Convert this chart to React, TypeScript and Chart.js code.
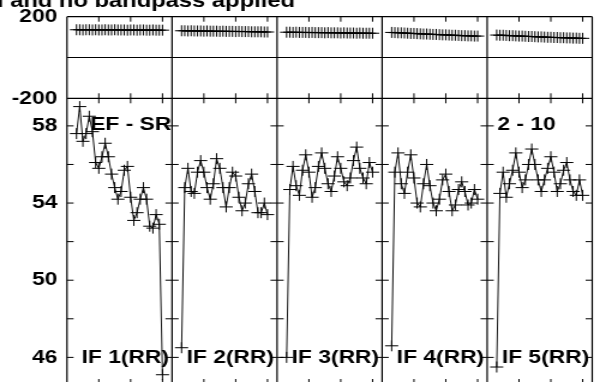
import React, { useEffect, useRef } from 'react';
import { Chart, registerables } from 'chart.js';

Chart.register(...registerables);

// ---- data ----
const PANEL_SPAN = 33;
const SAMPLE_U = [3, 4, 5, 6, 7, 8, 9, 10, 11, 12, 13, 14, 15, 16, 17, 18, 19, 20, 21, 22, 23, 24, 25, 26, 27, 28, 29, 30];
const X_TICKS = [10, 20, 30];

const PANEL_LABELS = ['IF 1(RR)', 'IF 2(RR)', 'IF 3(RR)', 'IF 4(RR)', 'IF 5(RR)'];
const TITLE = 'Trend removal and no bandpass applied';
const LABEL_LEFT = 'EF - SR';
const LABEL_RIGHT = '2 - 10';

const TOP_TICKS = [-200, 0, 200];
const BOTTOM_TICKS = [46, 48, 50, 52, 54, 56, 58];
const BOTTOM_LABELED = [46, 50, 54, 58];

const TOP_IF1 = [136, 136, 135, 136, 136, 135, 136, 135, 135, 136, 135, 135, 136, 135, 135, 135, 134, 135, 135, 134, 135, 135, 134, 134, 135, 134, 134, 134];
const TOP_IF2 = [131, 131, 130, 131, 130, 130, 130, 129, 130, 129, 129, 129, 128, 129, 128, 128, 128, 127, 128, 127, 127, 127, 126, 126, 126, 126, 125, 125];
const TOP_IF3 = [124, 124, 123, 124, 123, 123, 123, 122, 123, 122, 122, 122, 121, 122, 121, 121, 121, 120, 121, 120, 120, 120, 119, 120, 119, 119, 119, 119];
const TOP_IF4 = [123, 122, 121, 121, 120, 119, 118, 118, 117, 116, 115, 115, 114, 113, 113, 112, 111, 111, 110, 109, 109, 108, 107, 107, 106, 106, 105, 105];
const TOP_IF5 = [110, 109, 109, 108, 107, 107, 106, 105, 105, 104, 103, 103, 102, 101, 101, 100, 99, 99, 98, 98, 97, 97, 96, 96, 95, 95, 94, 94];

const RR_IF1 = [57.6, 59.0, 57.2, 57.6, 58.5, 57.7, 56.1, 55.8, 56.4, 57.1, 56.4, 55.5, 54.8, 54.2, 54.6, 55.7, 55.9, 54.3, 53.1, 53.5, 54.2, 54.8, 54.2, 52.8, 52.7, 53.4, 52.9, 45.1];
const RR_IF2 = [46.5, 54.8, 55.8, 54.6, 54.5, 55.6, 56.2, 55.6, 54.8, 54.2, 55.0, 56.3, 55.8, 54.8, 53.8, 54.8, 55.6, 55.4, 54.3, 53.6, 54.0, 55.0, 55.5, 54.6, 53.5, 53.5, 54.0, 53.4];
const RR_IF3 = [46.0, 54.7, 55.9, 54.9, 54.4, 55.7, 56.5, 55.6, 54.3, 54.8, 55.9, 56.6, 55.8, 55.0, 54.6, 55.4, 56.4, 55.8, 55.1, 54.9, 55.3, 56.2, 56.9, 55.8, 55.3, 55.0, 56.1, 55.6];
const RR_IF4 = [46.6, 55.6, 56.6, 55.0, 54.5, 55.6, 56.5, 55.3, 54.0, 53.8, 55.0, 56.0, 54.9, 54.0, 53.6, 54.2, 55.2, 55.5, 54.6, 53.6, 53.9, 54.7, 55.1, 54.6, 53.9, 54.0, 54.7, 54.2];
const RR_IF5 = [45.5, 54.5, 55.6, 54.3, 55.0, 55.7, 56.6, 55.6, 54.8, 55.2, 56.0, 56.8, 56.0, 55.2, 54.6, 55.2, 55.8, 56.4, 55.6, 54.6, 55.0, 55.7, 56.1, 55.2, 54.6, 54.4, 55.2, 54.4];

const TOP_SERIES = [TOP_IF1, TOP_IF2, TOP_IF3, TOP_IF4, TOP_IF5];
const RR_SERIES = [RR_IF1, RR_IF2, RR_IF3, RR_IF4, RR_IF5];

// ---- style ----
const FONT_FAMILY = '"Liberation Sans", Arial, sans-serif';
const FONT_SIZE = 19;
const FONT = `bold ${FONT_SIZE}px ${FONT_FAMILY}`;
const TITLE_FONT = `bold 19.8px ${FONT_FAMILY}`;
const STRETCH = 1.2;
const CANVAS_W = 500;
const CANVAS_H = 400;
const AXIS_W = 55.8;

const framePlugin = {
  id: 'gnuplotFrame',
  afterDraw(chart: any) {
    const { ctx } = chart;
    const xs = chart.scales.x;
    const yt = chart.scales.yTop;
    const yb = chart.scales.yBot;
    const left = xs.getPixelForValue(0);
    const right = xs.getPixelForValue(PANEL_SPAN * 5);
    const top = Math.min(yt.top, yb.top);
    const mid = yt.bottom;
    const bottom = Math.max(yt.bottom, yb.bottom);
    ctx.save();
    ctx.strokeStyle = '#000';
    ctx.lineWidth = 1.2;
    ctx.beginPath();
    [top, mid, bottom, yt.getPixelForValue(0)].forEach((y) => {
      ctx.moveTo(left, y);
      ctx.lineTo(right, y);
    });
    for (let p = 0; p <= 5; p++) {
      const x = xs.getPixelForValue(p * PANEL_SPAN);
      ctx.moveTo(x, top);
      ctx.lineTo(x, bottom);
    }
    ctx.stroke();

    ctx.lineWidth = 1;
    ctx.beginPath();
    const tv = 5;
    const th = 5.5;
    for (let p = 0; p < 5; p++) {
      X_TICKS.forEach((t) => {
        const x = xs.getPixelForValue(p * PANEL_SPAN + t);
        ctx.moveTo(x, top); ctx.lineTo(x, top + tv);
        ctx.moveTo(x, mid - tv); ctx.lineTo(x, mid + tv);
        ctx.moveTo(x, bottom); ctx.lineTo(x, bottom - tv);
      });
    }
    for (let p = 0; p <= 5; p++) {
      const x = xs.getPixelForValue(p * PANEL_SPAN);
      BOTTOM_TICKS.forEach((v) => {
        const y = yb.getPixelForValue(v);
        if (p < 5) { ctx.moveTo(x, y); ctx.lineTo(x + th, y); }
        if (p > 0) { ctx.moveTo(x, y); ctx.lineTo(x - th, y); }
      });
    }
    ctx.stroke();

    ctx.fillStyle = '#000';
    ctx.font = FONT;
    ctx.textAlign = 'left';
    ctx.textBaseline = 'middle';
    for (let p = 0; p < 5; p++) {
      ctx.fillText(PANEL_LABELS[p], xs.getPixelForValue(p * PANEL_SPAN + 4.6), yb.getPixelForValue(46));
    }
    ctx.fillText(LABEL_LEFT, xs.getPixelForValue(7.3), yb.getPixelForValue(58.05));
    ctx.fillText(LABEL_RIGHT, xs.getPixelForValue(4 * PANEL_SPAN + 3.2), yb.getPixelForValue(58.05));

    ctx.font = TITLE_FONT;
    ctx.textAlign = 'right';
    ctx.textBaseline = 'alphabetic';
    ctx.fillText(TITLE, 295 / STRETCH, 7);
    ctx.restore();
  },
};

function fitAxis(scale: any) {
  scale.width = AXIS_W;
  scale.paddingTop = 0;
  scale.paddingBottom = 0;
}

export default function App() {
  const canvasRef = useRef<HTMLCanvasElement | null>(null);

  useEffect(() => {
    const canvas = canvasRef.current;
    if (!canvas) return;
    const datasets: any[] = [];
    TOP_SERIES.forEach((series, p) => {
      datasets.push({
        data: series.map((v, i) => ({ x: p * PANEL_SPAN + SAMPLE_U[i], y: v })),
        yAxisID: 'yTop',
      });
    });
    RR_SERIES.forEach((series, p) => {
      datasets.push({
        data: series.map((v, i) => ({ x: p * PANEL_SPAN + SAMPLE_U[i], y: v })),
        yAxisID: 'yBot',
      });
    });
    datasets.forEach((d) => {
      Object.assign(d, {
        xAxisID: 'x',
        borderColor: '#111',
        borderWidth: 1,
        pointStyle: 'cross',
        pointRadius: 5.5,
        pointBorderWidth: 1,
        pointBorderColor: '#000',
        pointBackgroundColor: '#000',
        tension: 0,
        fill: false,
        clip: false,
      });
    });

    const tickFont = { family: FONT_FAMILY, size: FONT_SIZE, weight: 'bold' as const };
    const chart = new Chart(canvas, {
      type: 'line',
      data: { datasets },
      options: {
        responsive: false,
        animation: false,
        events: [],
        layout: { padding: { left: 0, right: CANVAS_W - 498.8, top: 16.7, bottom: CANVAS_H - 384 } },
        plugins: { legend: { display: false }, tooltip: { enabled: false }, title: { display: false } },
        scales: {
          x: { type: 'linear', display: false, min: 0, max: PANEL_SPAN * 5 },
          yBot: {
            type: 'linear',
            position: 'left',
            stack: 'panels',
            stackWeight: 285.7,
            min: 44.62,
            max: 59.43,
            afterFit: fitAxis,
            grid: { display: false, drawTicks: false },
            border: { display: false },
            ticks: {
              stepSize: 2,
              includeBounds: false,
              padding: 8,
              color: '#000',
              font: tickFont,
              callback: (v: any) => (BOTTOM_LABELED.includes(Number(v)) ? String(v) : ''),
            },
          },
          yTop: {
            type: 'linear',
            position: 'left',
            stack: 'panels',
            stackWeight: 81.6,
            min: TOP_TICKS[0],
            max: TOP_TICKS[TOP_TICKS.length - 1],
            afterFit: fitAxis,
            grid: { display: false, drawTicks: false },
            border: { display: false },
            ticks: {
              stepSize: 200,
              padding: 8,
              color: '#000',
              font: tickFont,
              callback: (v: any) => (Number(v) === 0 ? '' : String(v)),
            },
          },
        },
      } as any,
      plugins: [framePlugin],
    });
    return () => chart.destroy();
  }, []);

  return (
    <div style={{ position: 'absolute', left: 0, top: 0, width: 600, height: 382, overflow: 'hidden', background: '#fff' }}>
      <canvas
        ref={canvasRef}
        width={CANVAS_W}
        height={CANVAS_H}
        style={{ position: 'absolute', left: 0, top: 0, transform: `scaleX(${STRETCH})`, transformOrigin: '0 0' }}
      />
    </div>
  );
}
